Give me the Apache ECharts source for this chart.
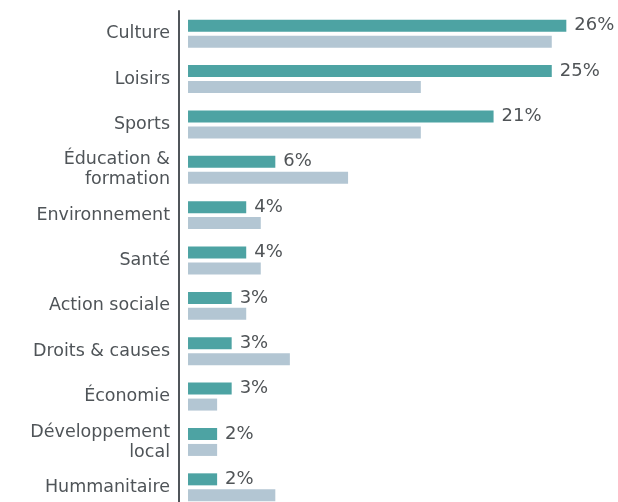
<!DOCTYPE html>
<html><head><meta charset="utf-8">
<script src="https://cdn.jsdelivr.net/npm/echarts@6/dist/echarts.min.js"></script>
<style>html,body{margin:0;padding:0;background:#fff}#c{width:618px;height:502px}</style>
</head><body><div id="c"></div>
<script>
const categories = ['Culture','Loisirs','Sports','Éducation &\nformation','Environnement','Santé','Action sociale','Droits & causes','Économie','Développement\nlocal','Hummanitaire'];
const seriesA = [26,25,21,6,4,4,3,3,3,2,2];
const seriesB = [25,16,16,11,5,5,4,7,2,2,6];
const pxPerUnit = 14.55;
const xMin = -0.62, xMax = 30;
const chart = echarts.init(document.getElementById('c'));
chart.setOption({
  animation:false,
  textStyle:{fontFamily:'DejaVu Sans'},
  grid:{left:179,top:11,width:(xMax-xMin)*pxPerUnit,height:499,containLabel:false,outerBoundsMode:'none'},
  xAxis:{type:'value',min:xMin,max:xMax,show:false},
  yAxis:{type:'category',data:categories,inverse:true,
    axisLine:{onZero:false,lineStyle:{color:'#50555a',width:2}},axisTick:{show:false},
    axisLabel:{fontSize:17.5,color:'#4f5458',margin:9,lineHeight:20,fontFamily:'DejaVu Sans'}},
  series:[
    {type:'bar',data:seriesA,barWidth:12,barGap:'33%',itemStyle:{color:'#4da3a3'},
     label:{show:true,position:'right',distance:8,formatter:'{c}%',fontSize:18,color:'#505457',fontFamily:'DejaVu Sans'}},
    {type:'bar',data:seriesB,barWidth:12,barGap:'33%',itemStyle:{color:'#b3c6d3'}}
  ]
});
</script></body></html>
